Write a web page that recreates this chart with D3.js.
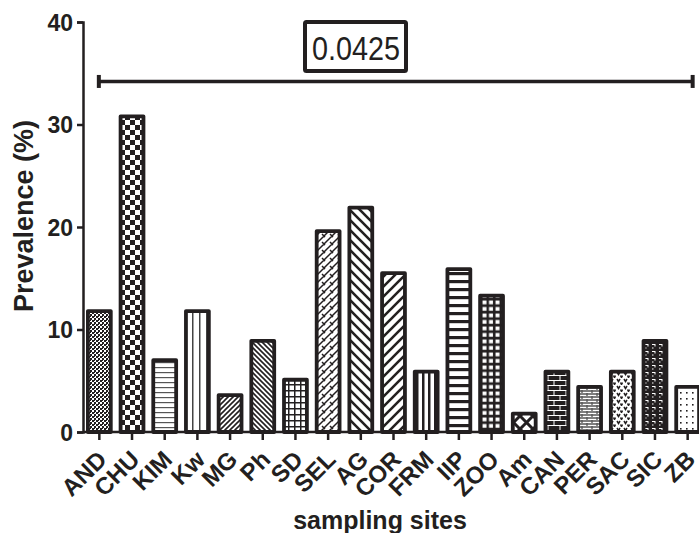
<!DOCTYPE html>
<html><head><meta charset="utf-8">
<script src="https://cdn.jsdelivr.net/npm/d3@7"></script>
<style>
html,body{margin:0;padding:0;background:#fff;}
text{font-family:"Liberation Sans",Arial,sans-serif;}
</style></head>
<body><svg id="chart" width="699" height="533"></svg>
<script>
const categories = ["AND","CHU","KIM","Kw","MG","Ph","SD","SEL","AG","COR","FRM","IIP","ZOO","Am","CAN","PER","SAC","SIC","ZB"];
const prevalence = [11.8,30.8,7.0,11.8,3.6,8.9,5.1,19.6,21.9,15.5,5.9,15.9,13.3,1.8,5.9,4.4,5.9,8.9,4.4];
const patterns = ["fineChecker","bigChecker","hThin","vThin","diagFwdDense","diagBackDense","gridThin","diagBrick","diagBackWide","diagFwdWide","vThick","hThick","gridDark","crossWide","brickDark","brickLight","weave","dashDark","dots"];
const yTicks = [0,10,20,30,40];
const pValueLabel = "0.0425";
const bracketLevel = 34.2;

const ink = "#231f20";
const svg = d3.select("#chart");
const defs = svg.append("defs");

function pat(id, w, h, bg, draw){
  const p = defs.append("pattern").attr("id", id).attr("patternUnits","userSpaceOnUse")
    .attr("width", w).attr("height", h);
  p.append("rect").attr("width", w).attr("height", h).attr("fill", bg);
  draw(p);
}
pat("fineChecker",4,4,"#fff",p=>{
  p.append("rect").attr("x",0).attr("y",0).attr("width",2).attr("height",2).attr("fill",ink);
  p.append("rect").attr("x",2).attr("y",2).attr("width",2).attr("height",2).attr("fill",ink);
  p.append("rect").attr("x",2).attr("y",0).attr("width",1).attr("height",1).attr("fill",ink);
});
pat("bigChecker",10,10,"#fff",p=>{
  p.append("rect").attr("x",0).attr("y",0).attr("width",5).attr("height",5).attr("fill",ink);
  p.append("rect").attr("x",5).attr("y",5).attr("width",5).attr("height",5).attr("fill",ink);
});
pat("hThin",5,5,"#fff",p=>{
  p.append("rect").attr("x",0).attr("y",2).attr("width",5).attr("height",1.2).attr("fill","#555");
});
pat("vThin",7,7,"#fff",p=>{
  p.append("rect").attr("x",3).attr("y",0).attr("width",1.5).attr("height",7).attr("fill","#444");
});
pat("diagFwdDense",5,5,"#fff",p=>{
  p.append("path").attr("d","M-1,6 L6,-1 M-1,1 L1,-1 M4,6 L6,4").attr("stroke",ink).attr("stroke-width",1.6);
});
pat("diagBackDense",5,5,"#fff",p=>{
  p.append("path").attr("d","M-1,-1 L6,6 M4,-1 L6,1 M-1,4 L1,6").attr("stroke",ink).attr("stroke-width",1.6);
});
pat("gridThin",6,6,"#fff",p=>{
  p.append("path").attr("d","M0,0.75 H6 M0.75,0 V6").attr("stroke",ink).attr("stroke-width",1.5);
});
pat("diagBrick",8,8,"#fff",p=>{
  p.append("path").attr("d","M-1,9 L9,-1 M-1,1 L1,-1 M7,9 L9,7 M2,2 L5,5 M6,-2 L8,0 M-2,6 L0,8").attr("stroke",ink).attr("stroke-width",1.5);
});
pat("diagBackWide",10,10,"#fff",p=>{
  p.append("path").attr("d","M-1,-1 L11,11 M9,-1 L11,1 M-1,9 L1,11").attr("stroke",ink).attr("stroke-width",2.6);
});
pat("diagFwdWide",10,10,"#fff",p=>{
  p.append("path").attr("d","M-1,11 L11,-1 M-1,1 L1,-1 M9,11 L11,9").attr("stroke",ink).attr("stroke-width",2.6);
});
pat("vThick",6,6,"#fff",p=>{
  p.append("rect").attr("x",2).attr("y",0).attr("width",2.5).attr("height",6).attr("fill",ink);
});
pat("hThick",8,8,"#fff",p=>{
  p.append("rect").attr("x",0).attr("y",0).attr("width",8).attr("height",3.2).attr("fill",ink);
});
pat("gridDark",6.5,6.5,ink,p=>{
  p.append("rect").attr("x",1.5).attr("y",1.5).attr("width",4).attr("height",3.8).attr("fill","#fff");
});
pat("crossWide",13,13,"#fff",p=>{
  p.append("path").attr("d","M0,0 L13,13 M13,0 L0,13").attr("stroke",ink).attr("stroke-width",3);
});
pat("brickDark",12,10,ink,p=>{
  p.append("path").attr("d","M0,0.5 H12 M0,5.5 H12 M2,0 V5 M8,5 V10").attr("stroke","#fff").attr("stroke-width",1);
});
pat("brickLight",10,6,"#fff",p=>{
  p.append("path").attr("d","M0,1 H10 M0,4 H10 M2,0 V3 M7,3 V6").attr("stroke","#555").attr("stroke-width",1.3);
});
pat("weave",7,7,"#fff",p=>{
  p.append("path").attr("d","M1,1 L2.5,3.5 L4,1 M4.5,4.5 L5.5,6.5 L6.5,4.5").attr("stroke",ink).attr("stroke-width",1.5).attr("fill","none");
});
pat("dashDark",7,7,ink,p=>{
  p.append("path").attr("d","M1,1.5 H4 M4,1 V3.5 M1,5 H2.5").attr("stroke","#fff").attr("stroke-width",1);
});
pat("dots",6,6,"#fff",p=>{
  p.append("rect").attr("x",2).attr("y",2).attr("width",1.6).attr("height",1.6).attr("fill",ink);
});

const x = d3.scaleBand().domain(categories).range([83, 704]).paddingInner(0.3).paddingOuter(0.15);
const y = d3.scaleLinear().domain([0,40]).range([432, 22]);

// bars
svg.append("g").selectAll("rect").data(categories).join("rect")
  .attr("x", d => x(d)).attr("width", x.bandwidth())
  .attr("y", (d,i) => y(prevalence[i])).attr("height", (d,i) => y(0) - y(prevalence[i]))
  .attr("fill", (d,i) => `url(#${patterns[i]})`)
  .attr("stroke", ink).attr("stroke-width", 3.8).attr("stroke-linejoin","round");

// y axis
const yAxis = svg.append("g").attr("transform","translate(83,0)")
  .call(d3.axisLeft(y).tickValues(yTicks).tickSize(6).tickPadding(4).tickFormat(d3.format("d")));
yAxis.select(".domain").attr("stroke", ink).attr("stroke-width", 2.5);
yAxis.selectAll(".tick line").attr("stroke", ink).attr("stroke-width", 2.5);
yAxis.selectAll(".tick text").attr("fill", ink).attr("font-size", 23).attr("font-weight","bold")
  .attr("font-family",'"Liberation Sans",Arial,sans-serif').attr("dy","0.36em");

// x axis
const xAxis = svg.append("g").attr("transform","translate(0,432)")
  .call(d3.axisBottom(x).tickSize(8).tickSizeOuter(0).tickFormat(""));
xAxis.select(".domain").attr("stroke", ink).attr("stroke-width", 2.5).attr("d","M83,0H699");
xAxis.selectAll(".tick line").attr("stroke", ink).attr("stroke-width", 2.5);

svg.append("g").selectAll("text").data(categories).join("text")
  .attr("transform", d => `translate(${x(d)+x.bandwidth()/2+9},${461}) rotate(-45)`)
  .attr("text-anchor","end").attr("font-size", 24).attr("font-weight","bold").attr("fill", ink)
  .text(d => d);

// axis titles
svg.append("text").attr("x", 380).attr("y", 529).attr("text-anchor","middle")
  .attr("font-size", 25).attr("font-weight","bold").attr("fill", ink).text("sampling sites");
svg.append("text").attr("transform","translate(33,216) rotate(-90)").attr("text-anchor","middle")
  .attr("font-size", 27).attr("font-weight","bold").attr("fill", ink).text("Prevalence (%)");

// significance bracket
const by = y(bracketLevel);
const bx0 = x(categories[0]) + x.bandwidth()/2 - 0.5;
const bx1 = x(categories[categories.length-1]) + x.bandwidth()/2 + 5;
const br = svg.append("g").attr("stroke", ink).attr("fill","none");
br.append("line").attr("x1", bx0).attr("x2", bx1).attr("y1", by).attr("y2", by).attr("stroke-width", 3.5);
br.append("line").attr("x1", bx0).attr("x2", bx0).attr("y1", by-6.5).attr("y2", by+6.5).attr("stroke-width", 4);
br.append("line").attr("x1", bx1).attr("x2", bx1).attr("y1", by-6.5).attr("y2", by+6.5).attr("stroke-width", 4);

svg.append("rect").attr("x", 305).attr("y", 22).attr("width", 101).attr("height", 49)
  .attr("fill","#fff").attr("stroke", ink).attr("stroke-width", 4).attr("rx",1.5);
svg.append("text").attr("x", 356).attr("y", 60).attr("text-anchor","middle")
  .attr("font-size", 33).attr("fill", ink).attr("textLength", 88).attr("lengthAdjust","spacingAndGlyphs")
  .text(pValueLabel);
</script></body></html>
